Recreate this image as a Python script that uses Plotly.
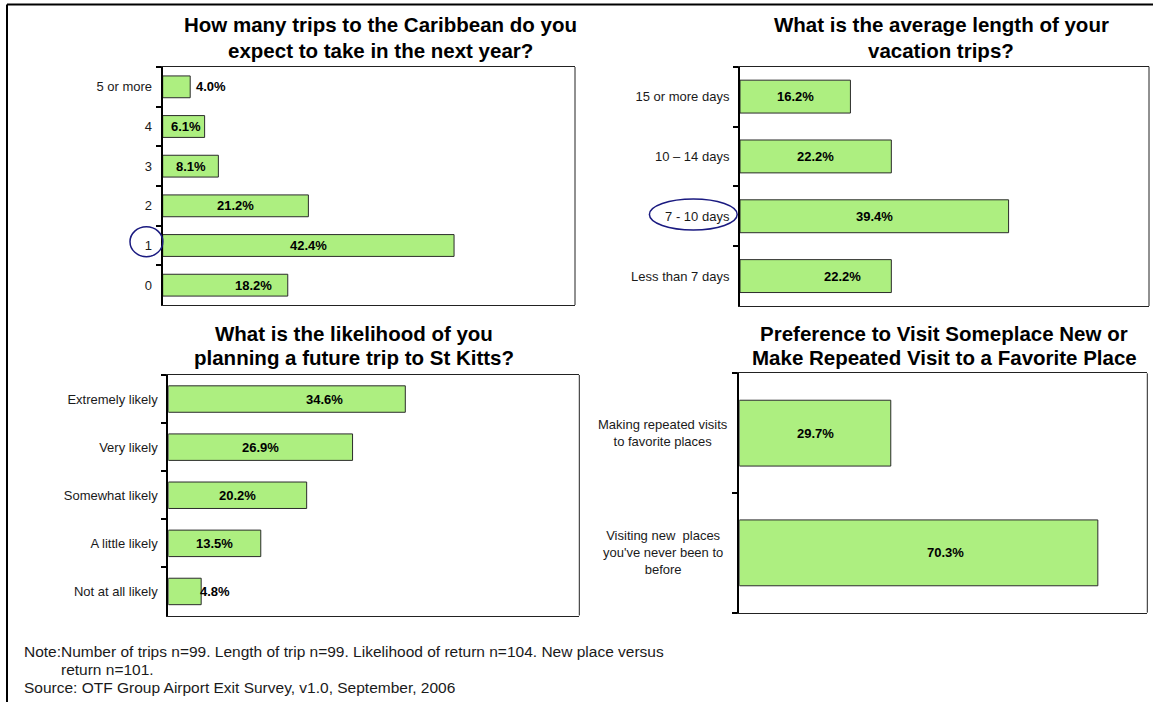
import plotly.graph_objects as go

W, H = 1153, 702
FONT = "Arial, 'Liberation Sans', sans-serif"
BAR_FILL = "#ADEF80"
BAR_EDGE = "#2b2b2b"
RING = "#1a1a80"

# ---- data (categories listed bottom to top) ----
trip_labels = ["0", "1", "2", "3", "4", "5 or more"]
trip_pct = [18.2, 42.4, 21.2, 8.1, 6.1, 4.0]

length_labels = ["Less than 7 days", "7 - 10 days", "10 – 14 days", "15 or more days"]
length_pct = [22.2, 39.4, 22.2, 16.2]

likely_labels = ["Not at all likely", "A little likely", "Somewhat likely",
                 "Very likely", "Extremely likely"]
likely_pct = [4.8, 13.5, 20.2, 26.9, 34.6]

pref_labels = ["Visiting new  places<br>you've never been to<br>before",
               "Making repeated visits<br>to favorite places"]
pref_pct = [70.3, 29.7]


def px(x):
    return x / W


def py(y):
    return 1 - y / H


panels = [
    dict(n=1, cats=trip_labels, vals=trip_pct, xmax=60,
         box=(162.7, 67, 575, 305),
         title=["How many trips to the Caribbean do you",
                "expect to take in the next year?"],
         title_x=380, title_y=(24.5, 50),
         shifts={"5 or more": 34.5, "4": 2, "0": 28}),
    dict(n=2, cats=length_labels, vals=length_pct, xmax=60,
         box=(740, 66.7, 1149, 306),
         title=["What is the average length of your", "vacation trips?"],
         title_x=941, title_y=(24.5, 50),
         shifts={"Less than 7 days": 27}),
    dict(n=3, cats=likely_labels, vals=likely_pct, xmax=60,
         box=(168.3, 375, 579.3, 615.5),
         title=["What is the likelihood of you",
                "planning a future trip to St Kitts?"],
         title_x=354, title_y=(333, 357),
         shifts={"Extremely likely": 38, "Not at all likely": 30}),
    dict(n=4, cats=pref_labels, vals=pref_pct, xmax=80,
         box=(739.3, 373.3, 1147.3, 612.7),
         title=["Preference to Visit Someplace New or",
                "Make Repeated Visit to a Favorite Place"],
         title_x=944, title_y=(333, 357),
         shifts={pref_labels[0]: 26.5}),
]

fig = go.Figure()
annotations = []
shapes = []
layout = {}

for p in panels:
    n = p["n"]
    sfx = "" if n == 1 else str(n)
    xa, ya = f"x{sfx}", f"y{sfx}"
    x0, y0, x1, y1 = p["box"]
    fig.add_trace(go.Bar(
        x=p["vals"], y=p["cats"], orientation="h",
        xaxis=xa, yaxis=ya,
        marker=dict(color=BAR_FILL, line=dict(color=BAR_EDGE, width=1)),
        hoverinfo="skip", showlegend=False,
    ))
    layout[f"xaxis{sfx}"] = dict(
        domain=[px(x0), px(x1)], anchor=ya, range=[0, p["xmax"]],
        showticklabels=False, ticks="", showgrid=False, zeroline=False,
        showline=True, linecolor="#222", linewidth=1, mirror=True,
    )
    layout[f"yaxis{sfx}"] = dict(
        domain=[py(y1), py(y0)], anchor=xa, type="category",
        categoryorder="array", categoryarray=p["cats"],
        showticklabels=(n != 4), ticks="outside", tickson="boundaries",
        ticklen=5, tickwidth=1.5, tickcolor="#000",
        ticklabelstandoff=6,
        tickfont=dict(family=FONT, size=13, color="#1a1a1a"),
        showgrid=False, zeroline=False,
        showline=True, linecolor="#000", linewidth=2,
    )
    # right edge of the plot frame
    shapes.append(dict(type="line", xref=f"{xa} domain", yref=f"{ya} domain",
                       x0=1, x1=1, y0=0, y1=1,
                       line=dict(color="#222", width=1)))
    # value labels
    for c, v in zip(p["cats"], p["vals"]):
        annotations.append(dict(
            x=v / 2, y=c, xref=xa, yref=ya, text=f"{v:.1f}%",
            showarrow=False, xshift=p["shifts"].get(c, 0),
            font=dict(family=FONT, size=13, color="#000", weight="bold"),
        ))
    # two-line chart title
    for line, ty in zip(p["title"], p["title_y"]):
        annotations.append(dict(
            x=px(p["title_x"]), y=py(ty), xref="paper", yref="paper",
            text=line, showarrow=False, xanchor="center", yanchor="middle",
            font=dict(family=FONT, size=20.5, color="#000", weight="bold"),
        ))

# wrapped category labels for the preference chart
for c in pref_labels:
    annotations.append(dict(
        x=px(663), y=c, xref="paper", yref="y4", text=c, showarrow=False,
        xanchor="center", yanchor="middle", align="center",
        font=dict(family=FONT, size=13, color="#1a1a1a"),
    ))

# highlight rings around the most common answers
shapes.append(dict(type="circle", xref="paper", yref="paper",
                   x0=px(130), x1=px(162.8), y0=py(256.7), y1=py(226.7),
                   line=dict(color=RING, width=1.5)))
shapes.append(dict(type="circle", xref="paper", yref="paper",
                   x0=px(649.4), x1=px(737.2), y0=py(230), y1=py(199),
                   line=dict(color=RING, width=1.5)))

# outer frame (top and left edges)
shapes.append(dict(type="line", xref="paper", yref="paper",
                   x0=px(7), x1=1, y0=py(4.5), y1=py(4.5),
                   line=dict(color="#000", width=2)))
shapes.append(dict(type="line", xref="paper", yref="paper",
                   x0=px(7), x1=px(7), y0=py(4.5), y1=0,
                   line=dict(color="#000", width=2)))

# footnote
note_font = dict(family=FONT, size=15.5, color="#1a1a1a")
foot = [
    (22, 651, "Note:"),
    (59, 651, "Number of trips n=99. Length of trip n=99. Likelihood of return n=104. New place versus"),
    (59, 669, "return n=101."),
    (22, 687.5, "Source: OTF Group Airport Exit Survey, v1.0, September, 2006"),
]
for fx, fy, txt in foot:
    annotations.append(dict(
        x=px(fx), y=py(fy), xref="paper", yref="paper", text=txt,
        showarrow=False, xanchor="left", yanchor="middle", font=note_font,
    ))

fig.update_layout(
    width=W, height=H,
    margin=dict(l=0, r=0, t=0, b=0),
    paper_bgcolor="#fff", plot_bgcolor="#fff",
    bargap=0.45,
    annotations=annotations, shapes=shapes,
    **layout,
)

fig.write_html("out.html", config={"displayModeBar": False})
